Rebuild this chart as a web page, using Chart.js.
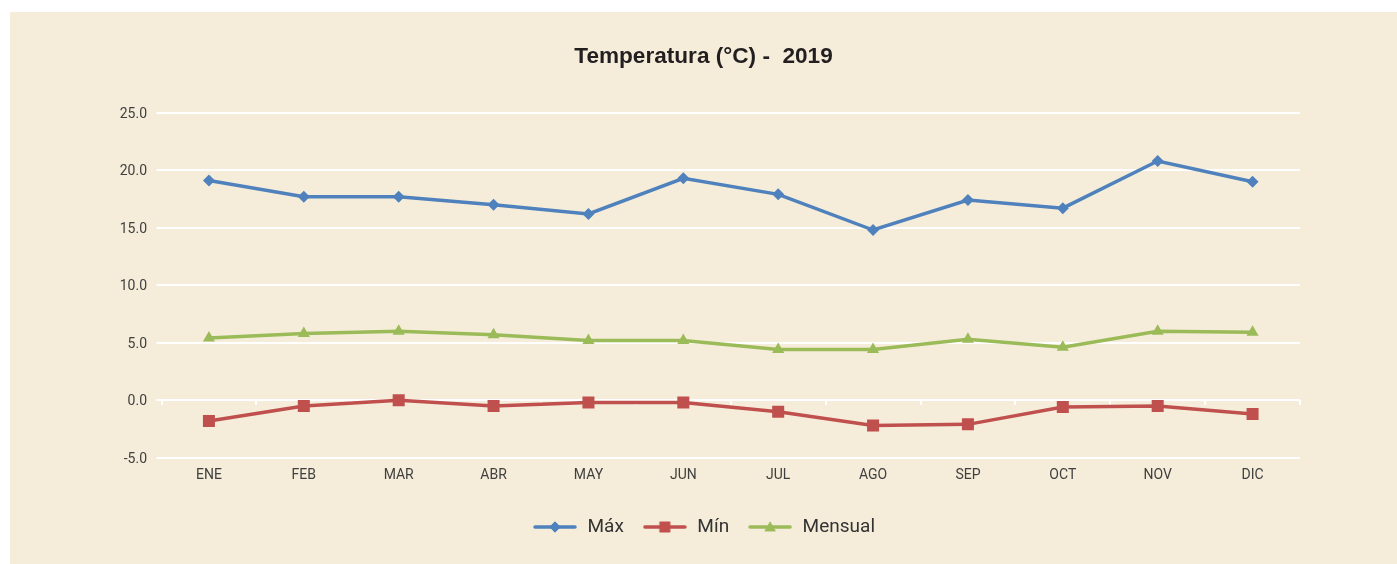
<!DOCTYPE html>
<html>
<head>
<meta charset="utf-8">
<script src="https://cdn.jsdelivr.net/npm/chart.js@4/dist/chart.umd.min.js"></script>
<style>
  html, body { margin: 0; padding: 0; background: #ffffff; }
  #wrap { position: absolute; left: 10px; top: 12px; width: 1387px; height: 552px; background: #F5EDDA; }
  #c { display: block; }
</style>
</head>
<body>
<div id="wrap"><canvas id="c" width="1387" height="552"></canvas></div>
<script>
const categories = ['ENE','FEB','MAR','ABR','MAY','JUN','JUL','AGO','SEP','OCT','NOV','DIC'];
const maxValues = [19.1, 17.7, 17.7, 17.0, 16.2, 19.3, 17.9, 14.8, 17.4, 16.7, 20.8, 19.0];
const minValues = [-1.8, -0.5, 0.0, -0.5, -0.2, -0.2, -1.0, -2.2, -2.1, -0.6, -0.5, -1.2];
const meanValues = [5.4, 5.8, 6.0, 5.7, 5.2, 5.2, 4.4, 4.4, 5.3, 4.6, 6.0, 5.9];
const seriesNames = ['Máx', 'Mín', 'Mensual'];
const titleText = 'Temperatura (°C) -  2019';
const yMin = -5, yMax = 25, yStep = 5;

const BLUE = '#4F81BD', RED = '#C0504D', GREEN = '#9BBB59';

function makeIcon(color, style) {
  const cv = document.createElement('canvas');
  cv.width = 44; cv.height = 18;
  const ctx = cv.getContext('2d');
  ctx.strokeStyle = color; ctx.fillStyle = color;
  ctx.lineWidth = 3.5; ctx.lineCap = 'round';
  ctx.beginPath(); ctx.moveTo(2, 9); ctx.lineTo(42, 9); ctx.stroke();
  Chart.helpers.drawPoint(ctx, {pointStyle: style.s, radius: style.r, borderWidth: 0}, 22, style.cy || 9);
  ctx.fill();
  return cv;
}

const icons = [
  makeIcon(BLUE, {s: 'rectRot', r: 5.5}),
  makeIcon(RED, {s: 'rect', r: 7.5}),
  makeIcon(GREEN, {s: 'triangle', r: 6.5, cy: 10})
];

const dsCommon = { borderWidth: 3.5, tension: 0, fill: false, pointBorderWidth: 0, pointHoverRadius: 6 };

new Chart(document.getElementById('c'), {
  type: 'line',
  data: {
    labels: categories,
    datasets: [
      Object.assign({ label: seriesNames[0], data: maxValues, borderColor: BLUE, backgroundColor: BLUE,
        pointStyle: 'rectRot', pointRadius: 6, pointBackgroundColor: BLUE }, dsCommon),
      Object.assign({ label: seriesNames[1], data: minValues, borderColor: RED, backgroundColor: RED,
        pointStyle: 'rect', pointRadius: 8.5, pointBackgroundColor: RED }, dsCommon),
      Object.assign({ label: seriesNames[2], data: meanValues, borderColor: GREEN, backgroundColor: GREEN,
        pointStyle: 'triangle', pointRadius: 7, pointBackgroundColor: GREEN }, dsCommon)
    ]
  },
  options: {
    responsive: false,
    animation: false,
    layout: { padding: { left: 0, right: 0, top: 0, bottom: 17.5 } },
    plugins: {
      tooltip: { enabled: false },
      title: {
        display: true,
        text: titleText,
        color: '#231F20',
        font: { family: "'Liberation Sans', Arial, sans-serif", size: 22.6, weight: 'bold', lineHeight: 1.2 },
        padding: { top: 31.5, bottom: 42.1 }
      },
      legend: {
        position: 'bottom',
        labels: {
          usePointStyle: true,
          pointStyleWidth: 46,
          padding: 18,
          color: '#333333',
          font: { family: 'Roboto, sans-serif', size: 19 },
          generateLabels: (chart) => {
            const items = Chart.defaults.plugins.legend.labels.generateLabels(chart);
            items.forEach((it, i) => { it.pointStyle = icons[i]; });
            return items;
          }
        }
      }
    },
    scales: {
      x: {
        type: 'category',
        offset: true,
        grid: { display: false, drawTicks: false },
        border: { display: false },
        ticks: { color: '#404040', font: { family: 'Roboto, sans-serif', size: 14 }, padding: 9.5, maxRotation: 0 },
        afterFit: (s) => { s.height = 41.8; }
      },
      xt: {
        type: 'category',
        offset: true,
        position: { y: 0 },
        grid: { display: true, drawOnChartArea: false, drawTicks: true, tickLength: 5, color: '#FFFFFF', lineWidth: 2, offset: true },
        border: { display: false },
        ticks: { display: false }
      },
      y: {
        min: yMin, max: yMax,
        ticks: { stepSize: yStep, color: '#404040', font: { family: 'Roboto, sans-serif', size: 14 }, padding: 9.5,
          labelOffset: 1.5, callback: (v) => Number(v).toFixed(1) },
        grid: { color: '#FFFFFF', lineWidth: 2, drawTicks: true, tickLength: 5 },
        border: { display: false },
        afterFit: (s) => { s.width = 151.5; }
      },
      yr: {
        position: 'right',
        min: yMin, max: yMax,
        grid: { display: false, drawTicks: false },
        border: { display: false },
        ticks: { display: false },
        afterFit: (s) => { s.width = 97; }
      }
    }
  }
});
</script>
</body>
</html>
